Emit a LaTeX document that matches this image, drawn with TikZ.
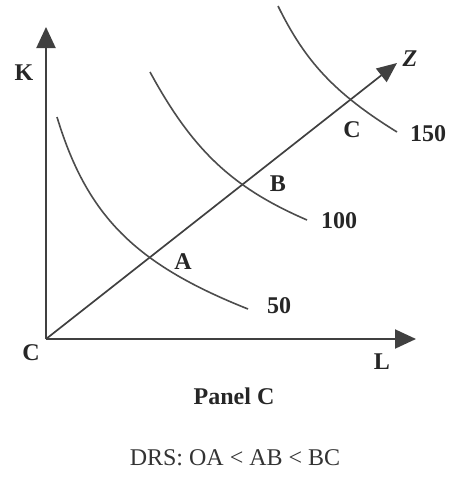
\documentclass[tikz,border=0pt]{standalone}
\usepackage{fontspec}
\setmainfont{Liberation Serif}
\usetikzlibrary{arrows.meta}
\tikzset{
  osa/.style={-{Triangle[length=21pt,width=19pt]},line width=2pt,draw=black!75},
  paprsek/.style={-{Triangle[length=20pt,width=17pt]},line width=1.7pt,draw=black!75},
  izo/.style={line width=1.6pt,draw=black!70},
  popis/.style={font=\fontsize{24}{26}\selectfont\bfseries,text=black!85,inner sep=0pt},
  radek/.style={font=\fontsize{24}{26}\selectfont,text=black!80,inner sep=0pt},
}

\begin{document}
\begin{tikzpicture}[x=1pt,y=-1pt]
  \useasboundingbox (0,0) rectangle (450,477);
  \coordinate (o) at (46,339);
  \coordinate (k) at (46,27);
  \coordinate (l) at (416,339);
  \coordinate (z) at (397,63);
  \draw[osa] (o) -- (k);
  \draw[osa] (o) -- (l);
  \draw[paprsek] (o) -- (z);
  % izokvanty 50, 100, 150
  \draw[izo] (57,117) .. controls (87,216) and (135,264) .. (248,309);
  \draw[izo] (150,72) .. controls (193,151) and (233,188) .. (307,220);
  \draw[izo] (278,6) .. controls (305,61) and (334,93) .. (397,132);
  % popisky
  \node[popis] (lk) at (24,73) {K};
  \node[popis] (lo) at (31,353) {C};
  \node[popis] (ll) at (382,362) {L};
  \node[popis,font=\fontsize{24}{26}\selectfont\bfseries\itshape] (lz) at (410,59) {Z};
  \node[popis] (la) at (183,262) {A};
  \node[popis] (lb) at (278,184) {B};
  \node[popis] (lc) at (352,130) {C};
  \node[popis] (l50) at (279,306) {50};
  \node[popis] (l100) at (339,221) {100};
  \node[popis] (l150) at (428,134) {150};
  \node[popis] (panel) at (234,396) {Panel C};
  \node[radek] (drs) at (235,458) {DRS: OA < AB < BC};
\end{tikzpicture}
\end{document}
